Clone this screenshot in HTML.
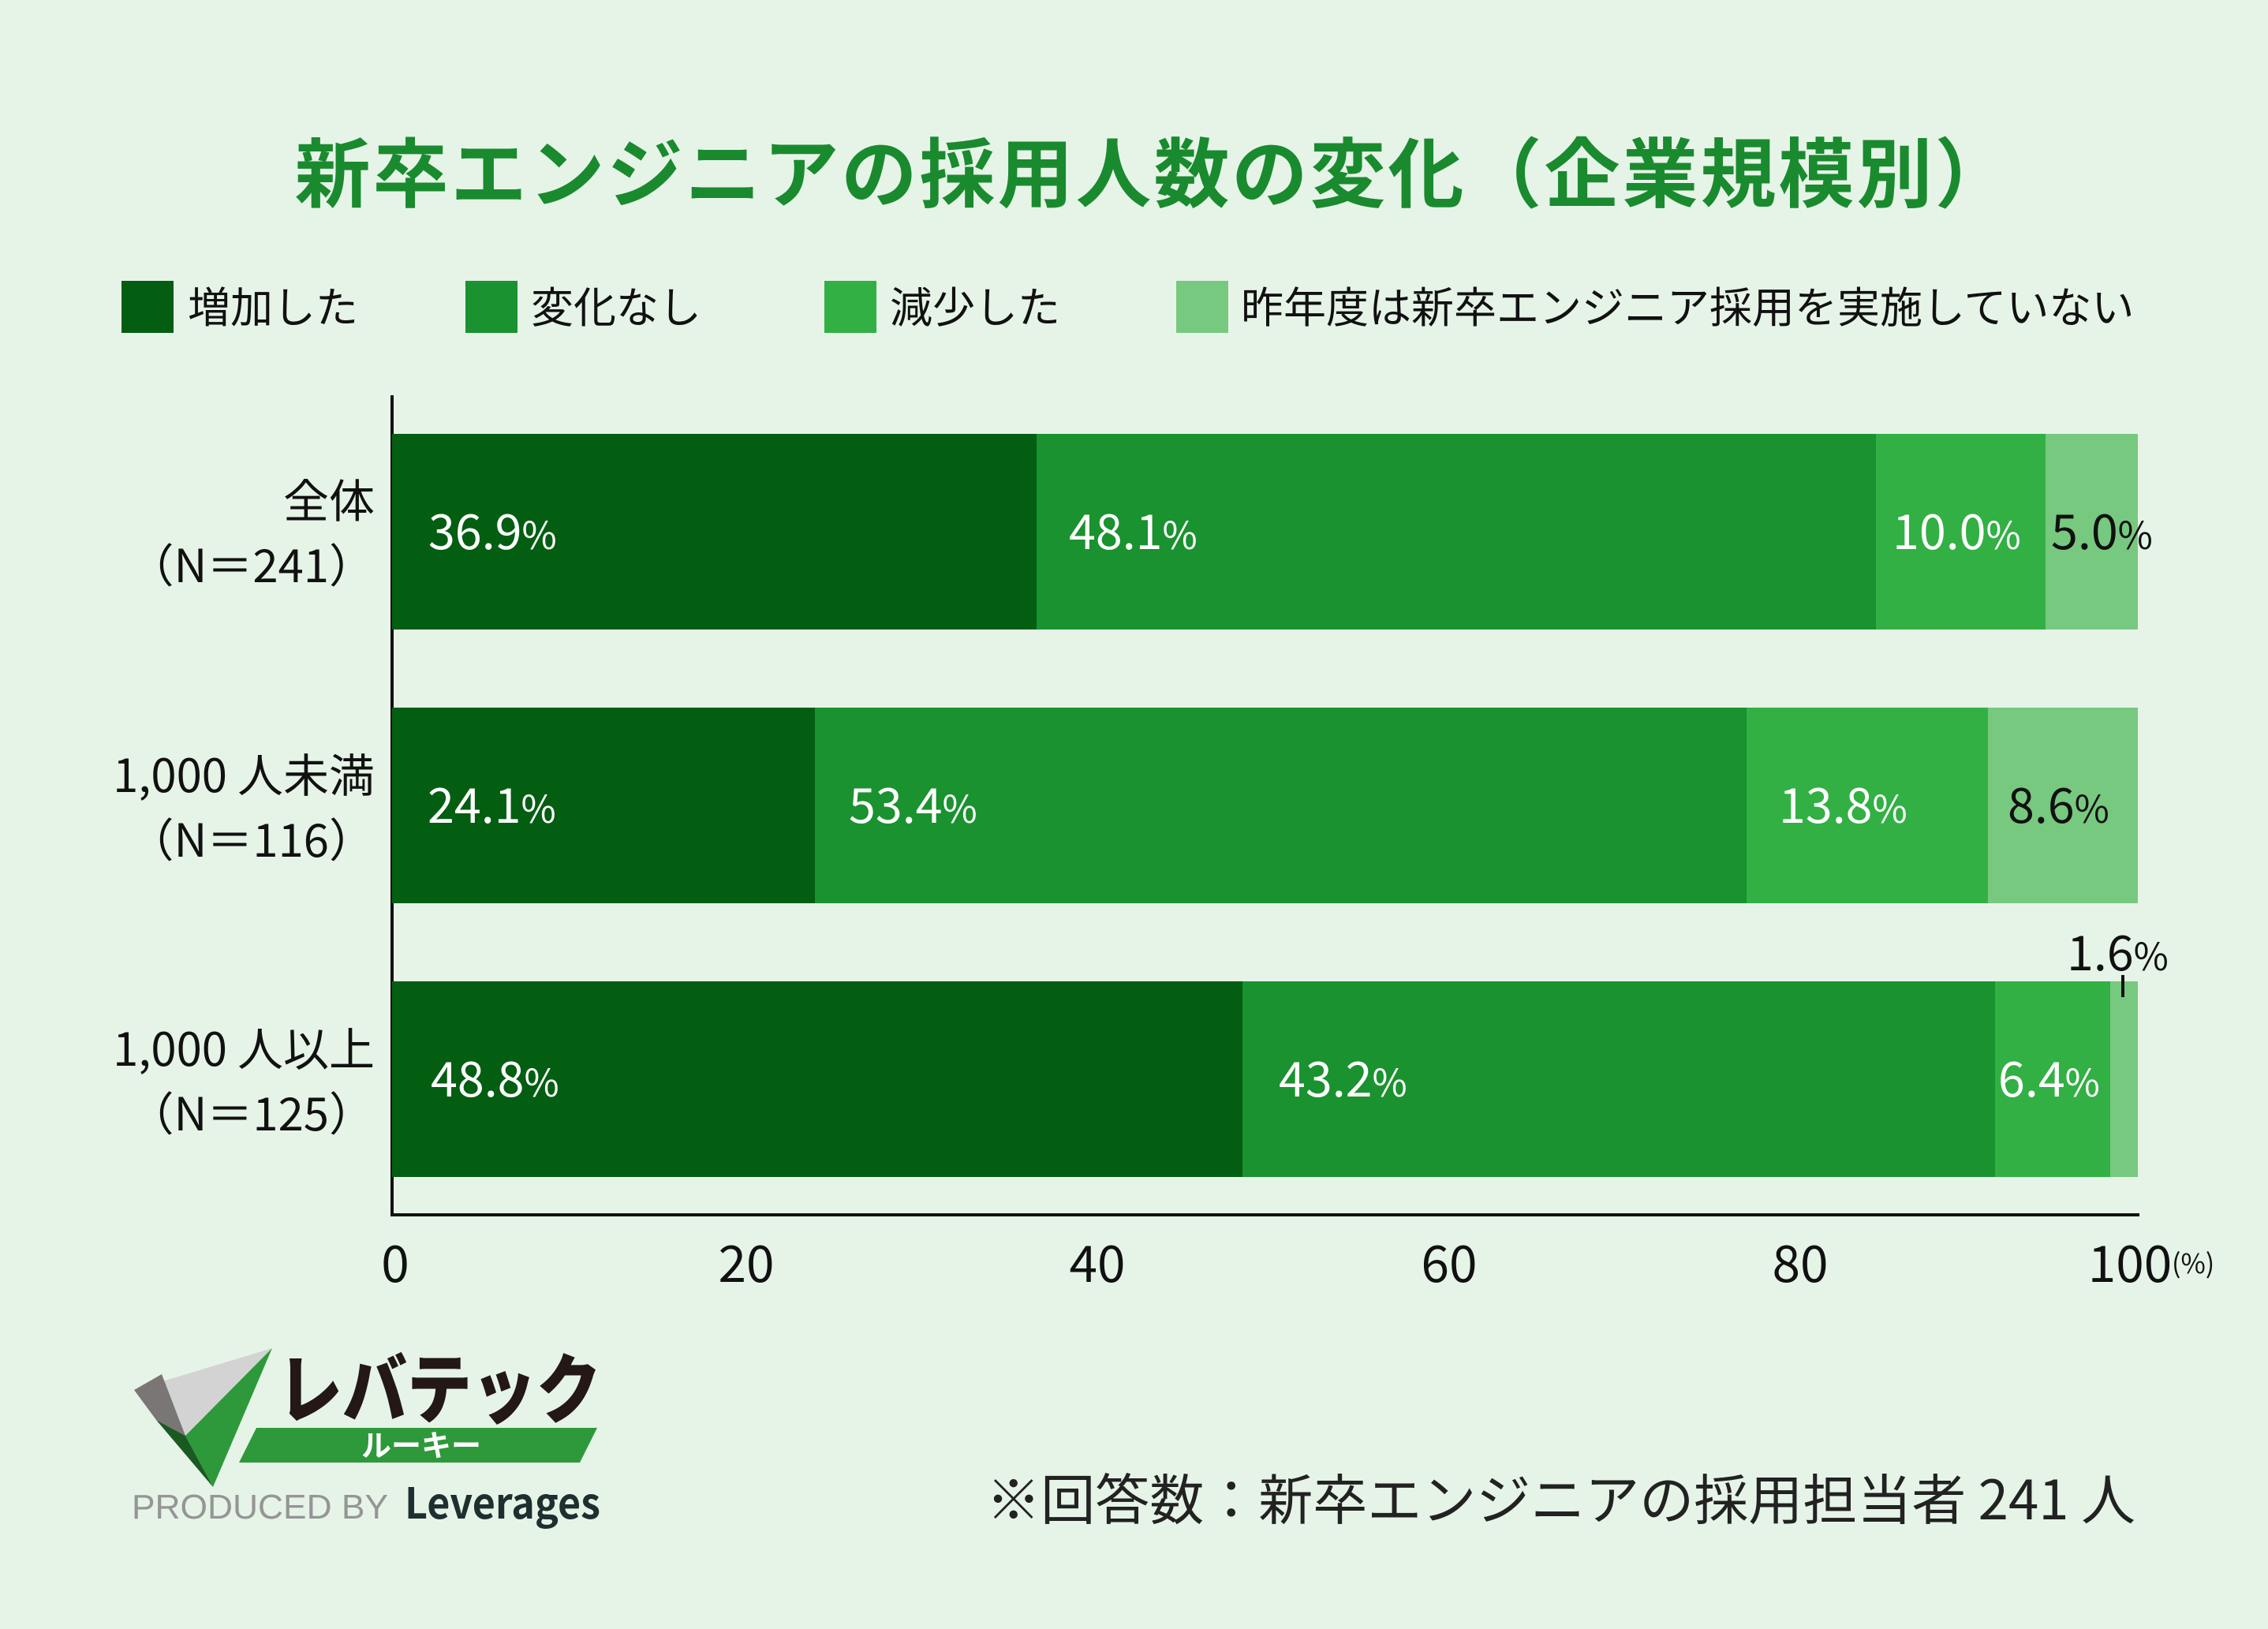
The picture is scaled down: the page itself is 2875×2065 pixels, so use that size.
<!DOCTYPE html>
<html><head><meta charset="utf-8"><style>
*{margin:0;padding:0;box-sizing:border-box}
body{width:2875px;height:2065px;background:#e6f4e8;position:relative;overflow:hidden;font-family:"Noto Sans CJK JP","Liberation Sans",sans-serif;color:#111}
.a{position:absolute;white-space:nowrap}
.t{left:25px;width:2875px;text-align:center;top:158px;font-size:96px;font-weight:700;color:#1a8a2e;line-height:112px;letter-spacing:3px}
.sq{position:absolute;width:66px;height:66px;top:356px}
.lg{position:absolute;top:351px;font-size:54px;line-height:70px;color:#111}
.bar{position:absolute;left:497px;height:248px;display:flex}
.bar div{height:100%}
.v{position:absolute;font-size:61px;line-height:64px;color:#fff}
.v small{font-size:48px}
.k{color:#111}
.cat{position:absolute;right:2400px;text-align:right;font-size:58px;line-height:82px}
.tk{position:absolute;top:1560px;font-size:64px;line-height:76px;transform:translateX(-50%)}
</style></head><body>
<div class="a t">新卒エンジニアの採用人数の変化（企業規模別）</div>

<div class="sq" style="left:154px;background:#035e12"></div><div class="lg" style="left:238px">増加した</div>
<div class="sq" style="left:590px;background:#1a922f"></div><div class="lg" style="left:673px">変化なし</div>
<div class="sq" style="left:1045px;background:#32b044"></div><div class="lg" style="left:1128px">減少した</div>
<div class="sq" style="left:1491px;background:#77c97f"></div><div class="lg" style="left:1573px">昨年度は新卒エンジニア採用を実施していない</div>

<div class="a" style="left:495px;top:501px;width:4px;height:1041px;background:#111"></div>
<div class="a" style="left:495px;top:1538px;width:2217px;height:4px;background:#111"></div>

<div class="bar" style="top:550px;width:2213px">
<div style="width:36.9%;background:#035e12"></div><div style="width:48.1%;background:#1a922f"></div><div style="width:9.7%;background:#32b044"></div><div style="width:5.3%;background:#77c97f"></div></div>
<div class="bar" style="top:897px;width:2213px">
<div style="width:24.2%;background:#035e12"></div><div style="width:53.4%;background:#1a922f"></div><div style="width:13.8%;background:#32b044"></div><div style="width:8.6%;background:#77c97f"></div></div>
<div class="bar" style="top:1244px;width:2213px">
<div style="width:48.7%;background:#035e12"></div><div style="width:43.1%;background:#1a922f"></div><div style="width:6.6%;background:#32b044"></div><div style="width:1.6%;background:#77c97f"></div></div>

<div class="v" style="left:543px;top:638px">36.9<small>%</small></div>
<div class="v" style="left:1355px;top:638px">48.1<small>%</small></div>
<div class="v" style="left:2399px;top:638px">10.0<small>%</small></div>
<div class="v k" style="left:2600px;top:638px">5.0<small>%</small></div>
<div class="v" style="left:542px;top:985px">24.1<small>%</small></div>
<div class="v" style="left:1076px;top:985px">53.4<small>%</small></div>
<div class="v" style="left:2255px;top:985px">13.8<small>%</small></div>
<div class="v k" style="left:2545px;top:985px">8.6<small>%</small></div>
<div class="v" style="left:546px;top:1332px">48.8<small>%</small></div>
<div class="v" style="left:1621px;top:1332px">43.2<small>%</small></div>
<div class="v" style="left:2533px;top:1332px">6.4<small>%</small></div>
<div class="v k" style="left:2620px;top:1172px">1.6<small>%</small></div>
<div class="a" style="left:2689px;top:1236px;width:4px;height:28px;background:#111"></div>

<div class="cat" style="top:590px">全体<br>（N＝241）</div>
<div class="cat" style="top:938px">1,000 人未満<br>（N＝116）</div>
<div class="cat" style="top:1285px">1,000 人以上<br>（N＝125）</div>

<div class="tk" style="left:501px">0</div>
<div class="tk" style="left:946px">20</div>
<div class="tk" style="left:1391px">40</div>
<div class="tk" style="left:1837px">60</div>
<div class="tk" style="left:2282px">80</div>
<div class="tk" style="left:2700px">100</div>
<div class="a" style="left:2753px;top:1580px;font-size:34px;line-height:40px">(%)</div>

<div class="a" style="right:168px;top:1853px;font-size:69px;line-height:86px;color:#222">※回答数：新卒エンジニアの採用担当者 241 人</div>

<svg class="a" style="left:160px;top:1700px" width="620" height="250" viewBox="0 0 620 250">
<polygon points="10,62 185,9 75,120" fill="#d3d3d4"/>
<polygon points="10,62 45,42 75,120 38,100" fill="#7b7676"/>
<polygon points="185,9 75,120 110,185" fill="#2e993a"/>
<polygon points="38,100 75,120 110,185" fill="#1a5a22"/>
<text x="192" y="96" font-family="Noto Sans CJK JP,sans-serif" font-weight="900" font-size="96" fill="#231815" textLength="410" lengthAdjust="spacingAndGlyphs">レバテック</text>
<polygon points="165,110 597,110 575,154 143,154" fill="#2e993a"/>
<text x="374" y="146" text-anchor="middle" font-family="Noto Sans CJK JP,sans-serif" font-weight="700" font-size="38" fill="#fff">ルーキー</text>
<text x="7" y="225" font-family="Liberation Sans,sans-serif" font-size="44" fill="#959595" textLength="325" lengthAdjust="spacingAndGlyphs">PRODUCED BY</text>
<text x="353" y="225" font-family="Noto Sans CJK JP,sans-serif" font-weight="700" font-size="54" fill="#1e2f2f" textLength="248" lengthAdjust="spacingAndGlyphs">Leverages</text>
</svg>
</body></html>
